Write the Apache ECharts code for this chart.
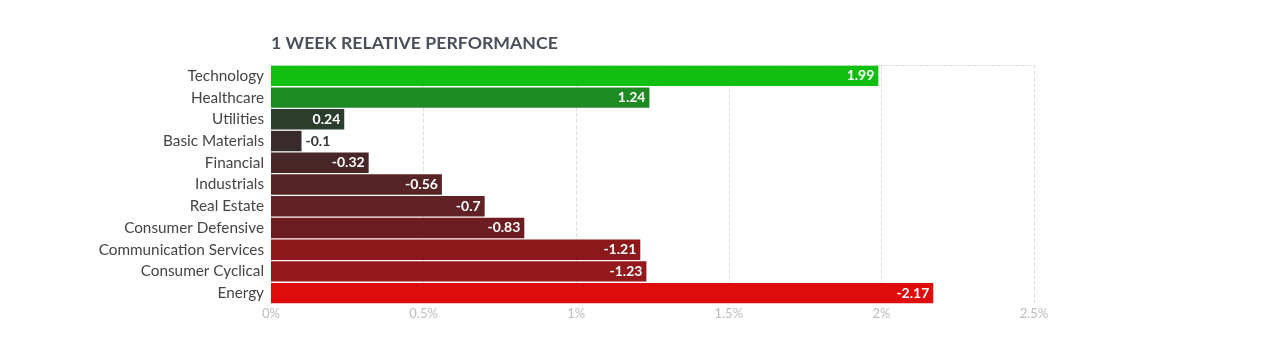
<!DOCTYPE html>
<html><head><meta charset="utf-8">
<script src="https://cdn.jsdelivr.net/npm/echarts@6/dist/echarts.min.js"></script>
<style>html,body{margin:0;padding:0;background:#fff}#c{width:1280px;height:348px}</style>
</head><body><div id="c"></div>
<script>
const categories = ["Technology","Healthcare","Utilities","Basic Materials","Financial","Industrials","Real Estate","Consumer Defensive","Communication Services","Consumer Cyclical","Energy"];
const values = [1.99, 1.24, 0.24, -0.1, -0.32, -0.56, -0.7, -0.83, -1.21, -1.23, -2.17];
const barColors = ["#10bf10","#1e8a24","#2b3d2d","#392b2d","#492729","#572426","#612226","#6d1d21","#8c181b","#93191c","#df0c0c"];
const xTicks = [0, 0.5, 1, 1.5, 2, 2.5];

const chart = echarts.init(document.getElementById('c'));
const data = values.map((v, i) => {
  const small = Math.abs(v) < 0.15;
  return {
    value: Math.abs(v),
    itemStyle: { color: barColors[i] },
    label: small ? { position: 'right', color: '#333' } : undefined
  };
});
chart.setOption({
  animation: false,
  title: {
    text: '1 WEEK RELATIVE PERFORMANCE',
    left: 271, top: 34, padding: 0,
    textStyle: { fontFamily: 'Lato', fontSize: 17.7, fontWeight: 'bold', color: '#4a4f5a' }
  },
  grid: { left: 271, right: 246, top: 65, bottom: 44 },
  xAxis: [{
    type: 'value', min: xTicks[0], max: xTicks[xTicks.length - 1], interval: 0.5,
    axisLine: { show: false }, axisTick: { show: false },
    axisLabel: { formatter: v => v + '%', color: '#bdbdbd', fontFamily: 'Lato', fontSize: 13, margin: 3 },
    splitLine: { show: true, lineStyle: { type: 'dashed', color: '#e2e2e2' } }
  }, {
    type: 'value', position: 'top', min: 0, max: 2.5,
    axisLine: { show: true, lineStyle: { type: 'dashed', color: '#e2e2e2' } },
    axisTick: { show: false }, axisLabel: { show: false }, splitLine: { show: false }
  }],
  yAxis: {
    type: 'category', data: categories, inverse: true,
    axisLine: { show: false }, axisTick: { show: false },
    axisLabel: { color: '#444', fontFamily: 'Lato', fontSize: 15.3, margin: 7 }
  },
  series: [{
    type: 'bar', data: data, barCategoryGap: '6%', xAxisIndex: 0,
    label: {
      show: true, position: 'insideRight', color: '#fff',
      fontFamily: 'Lato', fontWeight: 'bold', fontSize: 14, distance: 4,
      formatter: p => String(values[p.dataIndex])
    }
  }]
});
</script></body></html>
